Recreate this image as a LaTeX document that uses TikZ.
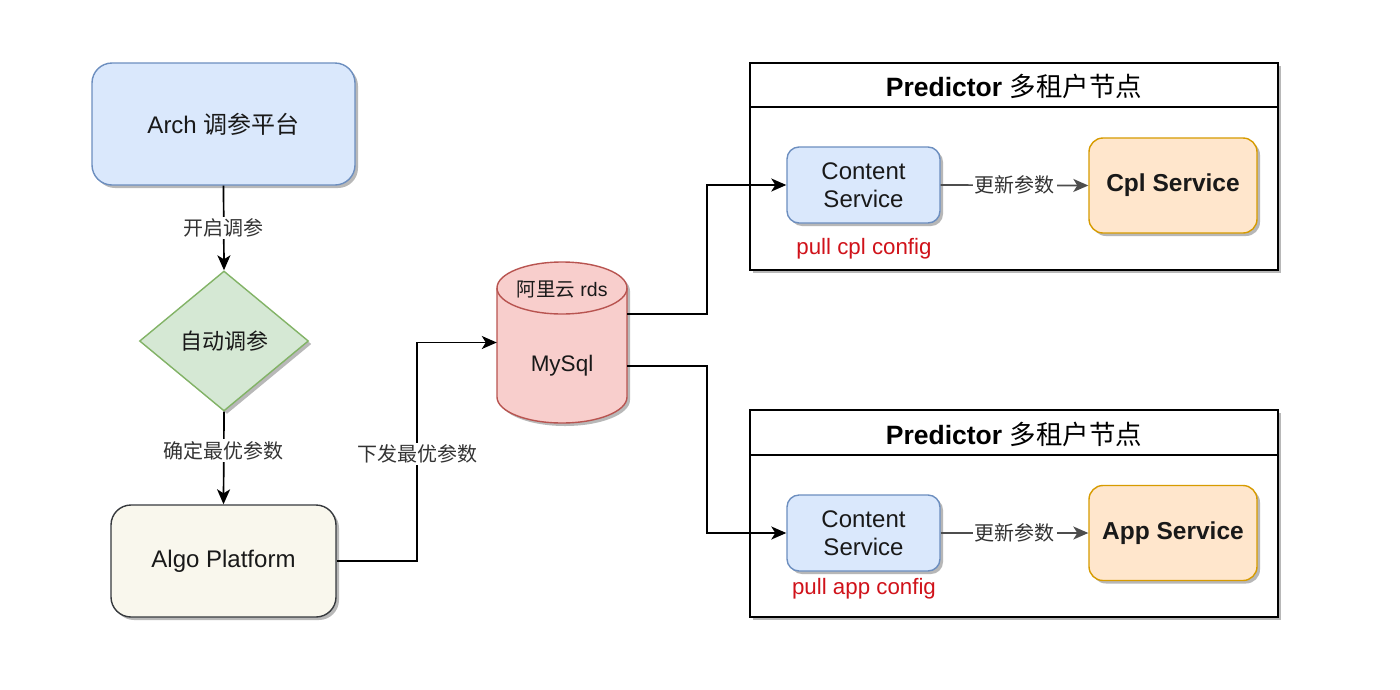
\documentclass[tikz,border=0pt]{standalone}
\usepackage{fontspec}
\setmainfont{Liberation Sans}
\newfontfamily\cjk{Noto Sans CJK SC}
\usetikzlibrary{arrows.meta,shadows,calc,shapes.geometric}
\definecolor{bluefill}{HTML}{DAE8FC}
\definecolor{bluedraw}{HTML}{6C8EBF}
\definecolor{greenfill}{HTML}{D5E8D4}
\definecolor{greendraw}{HTML}{82B366}
\definecolor{creamfill}{HTML}{F9F7ED}
\definecolor{creamdraw}{HTML}{36393D}
\definecolor{redfill}{HTML}{F8CECC}
\definecolor{reddraw}{HTML}{B85450}
\definecolor{orangefill}{HTML}{FFE6CC}
\definecolor{orangedraw}{HTML}{D79B00}
\definecolor{cfgred}{HTML}{D0121A}
\definecolor{edgegray}{HTML}{4D4D4D}
\tikzset{
  shade3/.style={drop shadow={shadow xshift=3pt,shadow yshift=-3pt,fill=black!35,opacity=0.8}},
  boxnode/.style={draw, line width=1.4pt, align=center, inner sep=0pt, shade3, text=black!90},
  lbl/.style={fill=white, inner sep=2pt, text=black!80, font=\cjk\fontsize{20}{24}\selectfont},
  arr/.style={-{Stealth[length=15pt,width=13pt,inset=4pt]}, line width=1.7pt},
  grayarr/.style={-{Stealth[length=15pt,width=13pt,inset=4pt]}, line width=1.7pt, draw=edgegray},
  container/.style={draw, line width=2pt, fill=white, shade3}
}
\begin{document}
\begin{tikzpicture}[x=1pt,y=-1pt]
\useasboundingbox (0,0) rectangle (1400,689);

% left column
\node[boxnode, fill=bluefill, draw=bluedraw, rounded corners=20pt,
  minimum width=263pt, minimum height=122pt, font=\fontsize{24}{28}\selectfont]
  (arch) at (223.5,124) {Arch {\cjk 调参平台}};
\node[boxnode, diamond, fill=greenfill, draw=greendraw,
  minimum width=169pt, minimum height=140pt, font=\cjk\fontsize{22}{26}\selectfont]
  (auto) at (224,341) {自动调参};
\node[boxnode, fill=creamfill, draw=creamdraw, rounded corners=20pt,
  minimum width=225pt, minimum height=112pt, font=\fontsize{24}{28}\selectfont]
  (algo) at (223.5,561) {Algo Platform};

\draw[arr] (arch.south) -- node[lbl]{开启调参} (auto.north);
\draw[arr] (auto.south) -- node[lbl, pos=0.42]{确定最优参数} (algo.north);

% database
\node[minimum width=130pt, minimum height=161pt, inner sep=0pt] (db) at (562,342.5) {};
\fill[black!35, opacity=0.8, shift={(3,3)}]
  (497,288) -- (497,397) arc[start angle=180,end angle=360,x radius=65pt,y radius=26pt]
  -- (627,288) arc[start angle=0,end angle=180,x radius=65pt,y radius=26pt] -- cycle;
\draw[fill=redfill, draw=reddraw, line width=1.4pt]
  (497,288) -- (497,397) arc[start angle=180,end angle=360,x radius=65pt,y radius=26pt]
  -- (627,288) arc[start angle=0,end angle=180,x radius=65pt,y radius=26pt] -- cycle;
\draw[draw=reddraw, line width=1.4pt]
  (497,288) arc[start angle=180,end angle=360,x radius=65pt,y radius=26pt];
\node[font=\fontsize{19.5}{23}\selectfont, text=black!90] (dbtop) at (562,290) {{\cjk 阿里云} rds};
\node[font=\fontsize{22.5}{26}\selectfont, text=black!90] (dbname) at (562,366) {MySql};

\coordinate (j1) at (417,454);
\draw[arr] (algo.east) -| (j1) |- (db.west);
\node[lbl] at (j1) {下发最优参数};

% containers
\node[container, minimum width=528pt, minimum height=207pt, inner sep=0pt] (c1) at (1014,166.5) {};
\node[container, minimum width=528pt, minimum height=207pt, inner sep=0pt] (c2) at (1014,513.5) {};
\draw[line width=2pt] (750,107) -- (1278,107);
\draw[line width=2pt] (750,455) -- (1278,455);
\node[font=\fontsize{26.5}{30}\selectfont] (h1) at (1014,86) {\textbf{Predictor} {\cjk 多租户节点}};
\node[font=\fontsize{26.5}{30}\selectfont] (h2) at (1014,434) {\textbf{Predictor} {\cjk 多租户节点}};

% services top
\node[boxnode, fill=bluefill, draw=bluedraw, rounded corners=12pt,
  minimum width=153pt, minimum height=76pt, font=\fontsize{24}{28}\selectfont]
  (cs1) at (863.5,185) {Content\\Service};
\node[boxnode, fill=orangefill, draw=orangedraw, rounded corners=14pt,
  minimum width=168pt, minimum height=95pt, font=\bfseries\fontsize{24.5}{28}\selectfont]
  (cpl) at (1173,185.5) {Cpl Service};
\node[text=cfgred, font=\fontsize{22.3}{26}\selectfont] (pc1) at (864,249) {pull cpl config};
\draw[grayarr] (cs1.east) -- node[lbl, pos=0.5]{更新参数} (cpl.west);

% services bottom
\node[boxnode, fill=bluefill, draw=bluedraw, rounded corners=12pt,
  minimum width=153pt, minimum height=76pt, font=\fontsize{24}{28}\selectfont]
  (cs2) at (863.5,533) {Content\\Service};
\node[boxnode, fill=orangefill, draw=orangedraw, rounded corners=14pt,
  minimum width=168pt, minimum height=95pt, font=\bfseries\fontsize{24.5}{28}\selectfont]
  (app) at (1173,533) {App Service};
\node[text=cfgred, font=\fontsize{22.3}{26}\selectfont] (pc2) at (864,589) {pull app config};
\draw[grayarr] (cs2.east) -- node[lbl, pos=0.5]{更新参数} (app.west);

% db to services
\coordinate (p1) at ($(db.east)+(0,-28.5)$);
\coordinate (p2) at ($(db.east)+(0,23.5)$);
\coordinate (k1) at (707,250);
\coordinate (k2) at (707,450);
\draw[arr] (p1) -| (k1) |- (cs1.west);
\draw[arr] (p2) -| (k2) |- (cs2.west);
\end{tikzpicture}
\end{document}
